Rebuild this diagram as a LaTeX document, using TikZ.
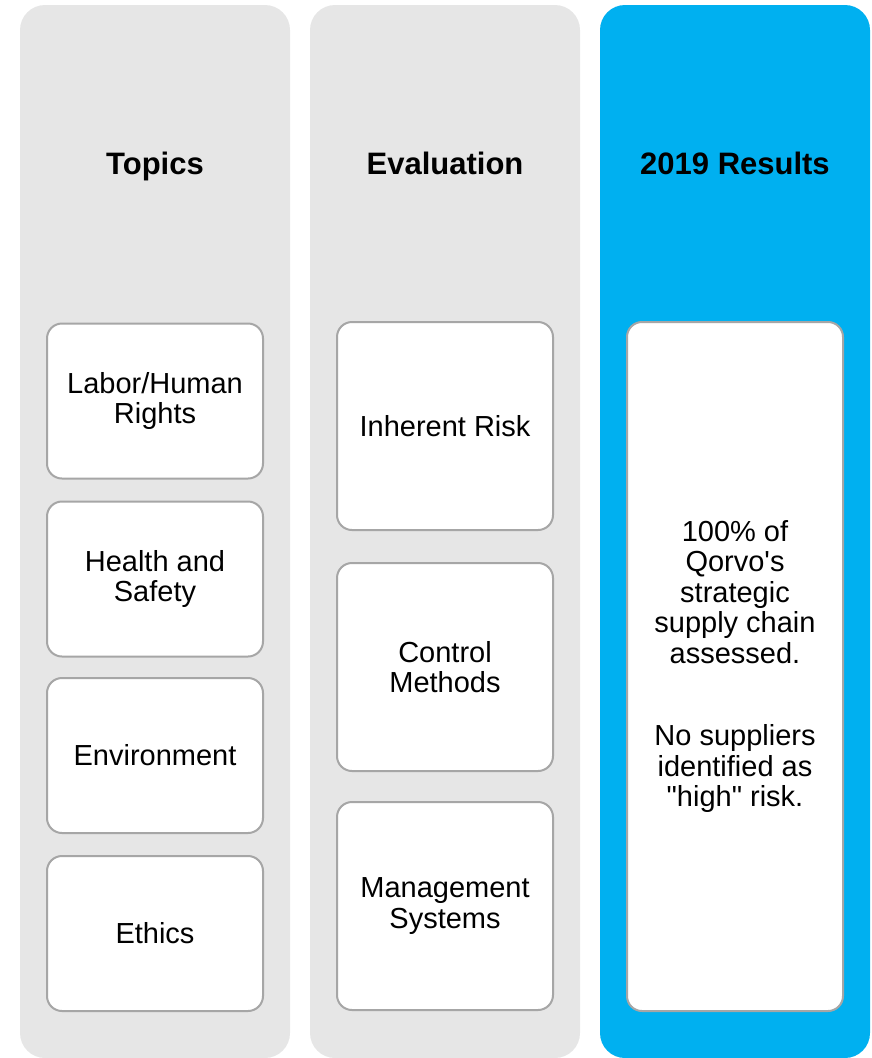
\documentclass[tikz,border=0pt]{standalone}
\usepackage{fontspec}
\newfontfamily\arialfont{Liberation Sans}
\definecolor{panelgray}{HTML}{E6E6E6}
\definecolor{panelblue}{HTML}{00B0F0}
\definecolor{boxborder}{HTML}{A6A6A6}
\begin{document}
\begin{tikzpicture}[x=1pt,y=-1pt,
  panel/.style={rounded corners=25pt},
  inbox/.style={draw=boxborder,line width=2pt,fill=white,rounded corners=15pt,
    minimum width=216pt,align=center,inner sep=0pt,
    font=\arialfont\fontsize{29}{30.5}\selectfont},
  header/.style={font=\arialfont\fontsize{31}{34}\selectfont\bfseries,anchor=base}]
\useasboundingbox (0,0) rectangle (871,1058);
\begin{scope}
\clip (0,0) rectangle (871,1058);
\fill[panelgray,panel] (20,5) rectangle (290,1058);
\fill[panelgray,panel] (310,5) rectangle (580,1058);
\fill[panelblue,panel] (600,5) rectangle (870,1058);
\end{scope}
\node[header] (h1) at (155,174) {Topics};
\node[header] (h2) at (445,174) {Evaluation};
\node[header] (h3) at (735,174) {2019 Results};
\node[inbox,minimum height=155pt] (t1) at (155,401) {Labor/Human\\Rights};
\node[inbox,minimum height=155pt] (t2) at (155,579) {Health and\\Safety};
\node[inbox,minimum height=155pt] (t3) at (155,755.5) {Environment};
\node[inbox,minimum height=155pt] (t4) at (155,933.5) {Ethics};
\node[inbox,minimum height=208pt] (e1) at (445,426) {Inherent Risk};
\node[inbox,minimum height=208pt] (e2) at (445,667) {Control\\Methods};
\node[inbox,minimum height=208pt] (e3) at (445,906) {Management\\Systems};
\node[inbox,minimum height=689pt] (r1) at (735,666.5) {100\% of\\Qorvo's\\strategic\\supply chain\\assessed.\\[52pt]No suppliers\\identified as\\"high" risk.};
\end{tikzpicture}
\end{document}
